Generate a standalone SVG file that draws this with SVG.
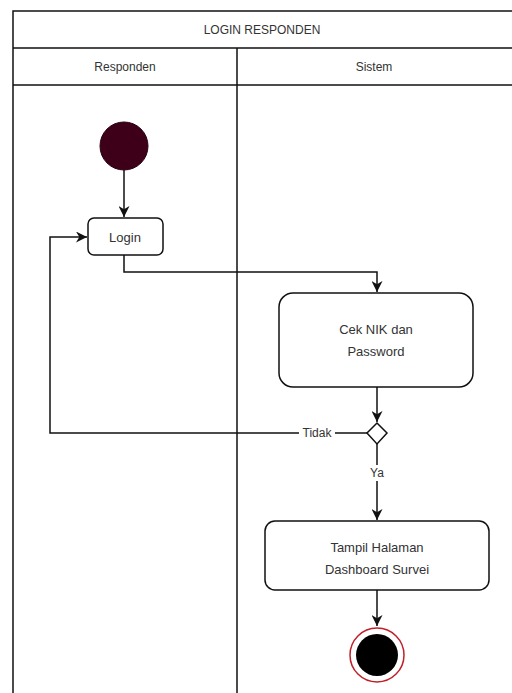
<svg xmlns="http://www.w3.org/2000/svg" width="512" height="693" viewBox="0 0 512 693">
<style>
.t{font-family:"Liberation Sans",Arial,sans-serif;font-size:12px;fill:#333;text-anchor:middle;dominant-baseline:central}
.n{font-size:13px}
.ln{stroke:#111;stroke-width:1.5;fill:none}
.box{fill:#fff;stroke:#111;stroke-width:1.5}
</style>
<defs>
<marker id="arr" viewBox="0 0 10 10" refX="10" refY="5" markerWidth="11" markerHeight="11" markerUnits="userSpaceOnUse" orient="auto">
<path d="M0,0 L10,5 L0,10 L3,5 Z" fill="#111"/>
</marker>
</defs>
<rect width="512" height="693" fill="#fff"/>
<g id="pool">
<path class="ln" d="M13,693 V11 H512 M13,48 H512 M13,85 H512 M237,48 V693"/>
<text class="t" x="262" y="30">LOGIN RESPONDEN</text>
<text class="t" x="125" y="67">Responden</text>
<text class="t" x="374" y="67">Sistem</text>
</g>
<g id="connectors">
<path class="ln" d="M124,170 V217" marker-end="url(#arr)"/>
<path class="ln" d="M124,255 V272 H377 V292" marker-end="url(#arr)"/>
<path class="ln" d="M377,387 V422" marker-end="url(#arr)"/>
<path class="ln" d="M367,433 H50 V237 H87" marker-end="url(#arr)"/>
<path class="ln" d="M377,444 V520" marker-end="url(#arr)"/>
<path class="ln" d="M377,590 V626" marker-end="url(#arr)"/>
<rect x="299" y="426" width="36" height="14" fill="#fff"/>
<text class="t" x="317" y="433">Tidak</text>
<rect x="368" y="465" width="18" height="16" fill="#fff"/>
<text class="t" x="377" y="473">Ya</text>
</g>
<g id="start">
<circle cx="124" cy="146" r="24" fill="#3d0018" stroke="#2a0010" stroke-width="1"/>
</g>
<g id="login">
<rect class="box" x="88" y="218" width="75" height="37" rx="6"/>
<text class="t n" x="125" y="237">Login</text>
</g>
<g id="cek">
<rect class="box" x="279" y="293" width="194" height="94" rx="14"/>
<text class="t n" x="376" y="329">Cek NIK dan</text>
<text class="t n" x="376" y="351">Password</text>
</g>
<g id="decision">
<path class="box" d="M377,423 L387,433 L377,444 L367,433 Z"/>
</g>
<g id="tampil">
<rect class="box" x="265" y="521" width="224" height="69" rx="10"/>
<text class="t n" x="377" y="547">Tampil Halaman</text>
<text class="t n" x="377" y="569">Dashboard Survei</text>
</g>
<g id="end">
<circle cx="377" cy="655" r="27" fill="#fff" stroke="#c0202a" stroke-width="1.5"/>
<circle cx="377" cy="655" r="21" fill="#000"/>
</g>
</svg>
